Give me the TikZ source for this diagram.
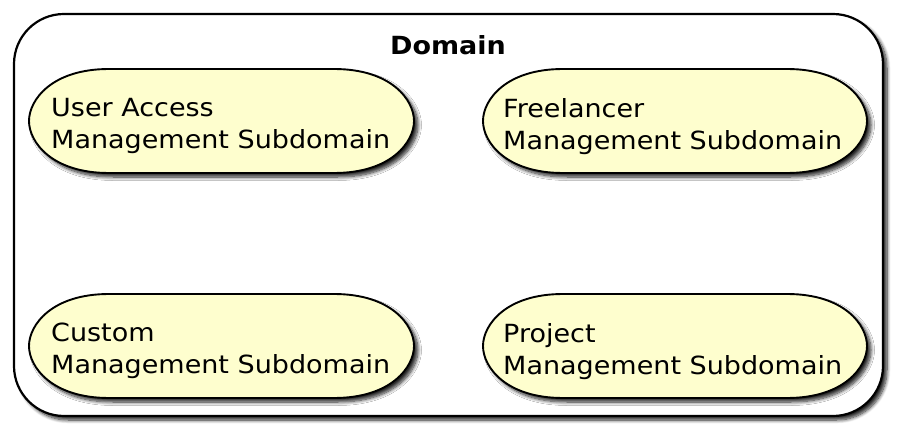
\documentclass[tikz,border=0pt]{standalone}
\usepackage{fontspec}
\setmainfont{DejaVu Sans}[FakeStretch=1.08]
\usetikzlibrary{shadows.blur}
\definecolor{ucfill}{HTML}{FEFECE}
\newcommand\ucpath[4]{%
  \draw[ucshape] ({#1+80},#2) -- ({#3-80},#2)
    .. controls ({#3-80+0.72*80},#2) and (#3,{(#2+#4)/2-0.4*(#4-#2)/2}) .. (#3,{(#2+#4)/2})
    .. controls (#3,{(#2+#4)/2+0.4*(#4-#2)/2}) and ({#3-80+0.72*80},#4) .. ({#3-80},#4)
    -- ({#1+80},#4)
    .. controls ({#1+80-0.72*80},#4) and (#1,{(#2+#4)/2+0.4*(#4-#2)/2}) .. (#1,{(#2+#4)/2})
    .. controls (#1,{(#2+#4)/2-0.4*(#4-#2)/2}) and ({#1+80-0.72*80},#2) .. cycle;}
\begin{document}
\begin{tikzpicture}[x=1pt,y=-1pt,
  shadowed/.style={blur shadow={shadow xshift=4pt,shadow yshift=-4pt,shadow blur steps=8,shadow blur radius=3.5pt,shadow opacity=85}},
  ucshape/.style={draw=black,line width=1.9pt,fill=ucfill,shadowed},
  domainbox/.style={draw=black,line width=2.2pt,fill=white,rounded corners=50pt,shadowed},
  uctext/.style={anchor=north west,inner sep=0pt,align=left,font=\fontsize{25}{32}\selectfont},
  titletext/.style={anchor=base,inner sep=0pt,font=\fontsize{25}{30}\selectfont\bfseries}]
\useasboundingbox (0,0) rectangle (904,438);
\draw[domainbox] (14,14) rectangle (883,416);
\node[titletext] (title) at (448,55) {Domain};
\ucpath{29}{69}{414}{173}
\ucpath{483}{69}{867}{173}
\ucpath{29}{294}{414}{398}
\ucpath{483}{294}{867}{398}
\node[uctext] (ua) at (51,98.5) {User Access\\Management Subdomain};
\node[uctext] (fl) at (503,98) {Freelancer\\Management Subdomain};
\node[uctext] (cu) at (51,323) {Custom\\Management Subdomain};
\node[uctext] (pr) at (503,323) {Project\\Management Subdomain};
\end{tikzpicture}
\end{document}
